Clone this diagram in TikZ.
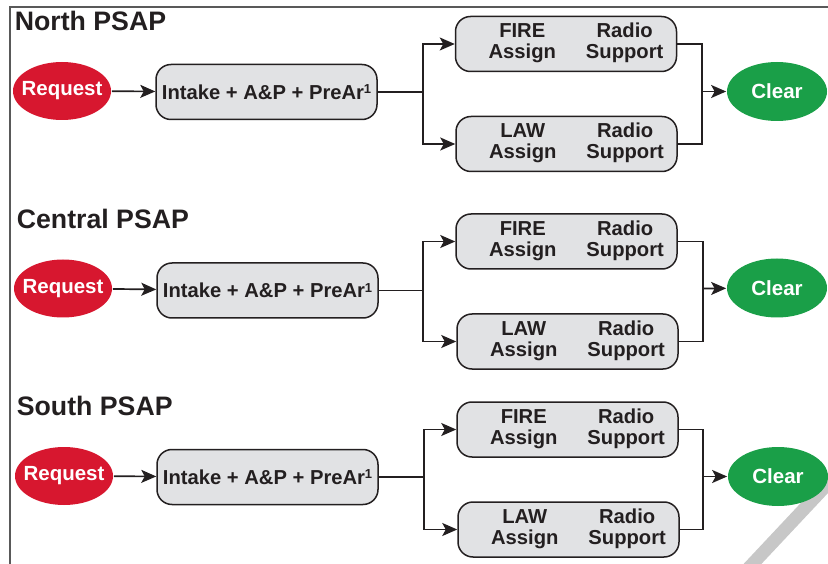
\documentclass[tikz,border=0pt]{standalone}
\usepackage{fontspec}
\setmainfont{Liberation Sans}
\usetikzlibrary{arrows.meta, shapes.geometric}

\definecolor{reqred}{HTML}{D7172F}
\definecolor{clrgreen}{HTML}{1A9F48}
\definecolor{boxgray}{HTML}{E1E2E4}
\definecolor{ink}{HTML}{231F20}

% two columns of a dispatch box
\newcommand{\dispatch}[1]{\hspace*{20pt}\begin{tabular}{@{}c@{\hspace{30pt}}c@{}}#1 & Radio\\ Assign & Support\end{tabular}}
% text of an oval, the oval keeps its own size
\newcommand{\ovaltext}[1]{\makebox[0pt]{#1}}
% footnote mark
\newcommand{\fnmark}{\kern-0.3pt\raisebox{5.3pt}{\fontsize{13}{13}\selectfont 1}}

\begin{document}
\begin{tikzpicture}[
        x=1pt, y=-1pt, % pixel units, y downwards
        > = {Stealth[length=15pt, width=13pt, inset=3.5pt]}, % arrow head style
        line width=1.7pt, % line style
        draw=ink
      ]

      \tikzstyle{psaptitle}=[anchor=base west, inner sep=0pt, text=ink, font=\fontsize{26.7}{27}\selectfont\bfseries]
      \tikzstyle{request}=[ellipse, fill=reqred, text=white, minimum width=98pt, minimum height=58pt, inner sep=0pt, font=\fontsize{20.5}{21}\selectfont\bfseries]
      \tikzstyle{done}=[request, fill=clrgreen, minimum width=100pt, minimum height=59pt]
      \tikzstyle{task}=[rectangle, rounded corners=15pt, draw=ink, line width=1.5pt, fill=boxgray, minimum width=221pt, minimum height=55pt, inner sep=0pt, text=ink, font=\fontsize{20.2}{20.5}\selectfont\bfseries]

      \useasboundingbox (0,0) rectangle (828,564);

      % frame and grey stroke
      \draw[line width=1.2pt, black!65] (10,564) -- (10,7) -- (828,7);
      \draw[line width=13pt, black!22] (744,573) -- (836,475);

      % North
      \node[psaptitle] (tn) at (14,30.5) {North PSAP};
      \node[request] (rq1) at (62,91) {\ovaltext{Request}};
      \node[task] (in1) at (266.5,92) {Intake + A\&P + PreAr\fnmark};
      \node[task] (fire1) at (566,44) {\dispatch{FIRE}};
      \node[task] (law1) at (566.5,144) {\dispatch{LAW}};
      \node[done] (clr1) at (777,91.5) {\ovaltext{Clear}};
      \coordinate (br1) at (423,92);
      \coordinate (mg1) at (702,91.5);

      \draw[->] (rq1) -- (in1);
      \draw (in1) -- (br1);
      \draw[->] (br1) |- (fire1);
      \draw[->] (br1) |- (law1);
      \draw (fire1) -| (mg1);
      \draw (law1) -| (mg1);
      \draw[->] (mg1) -- (clr1);

      % Central
      \node[psaptitle] (tc) at (16,229) {Central PSAP};
      \node[request] (rq2) at (63,288.5) {\ovaltext{Request}};
      \node[task] (in2) at (267.5,290.5) {Intake + A\&P + PreAr\fnmark};
      \node[task] (fire2) at (566.5,241.5) {\dispatch{FIRE}};
      \node[task] (law2) at (567.5,341.5) {\dispatch{LAW}};
      \node[done] (clr2) at (777,288) {\ovaltext{Clear}};
      \coordinate (br2) at (423,290.5);
      \coordinate (mg2) at (703,288.5);

      \draw[->] (rq2) -- (in2);
      \draw (in2) -- (br2);
      \draw[->] (br2) |- (fire2);
      \draw[->] (br2) |- (law2);
      \draw (fire2) -| (mg2);
      \draw (law2) -| (mg2);
      \draw[->] (mg2) -- (clr2);

      % South
      \node[psaptitle] (ts) at (16,415) {South PSAP};
      \node[request] (rq3) at (64,476) {\ovaltext{Request}};
      \node[task] (in3) at (267.5,477) {Intake + A\&P + PreAr\fnmark};
      \node[task] (fire3) at (567.5,429.5) {\dispatch{FIRE}};
      \node[task] (law3) at (568.5,529.5) {\dispatch{LAW}};
      \node[done] (clr3) at (778,476.5) {\ovaltext{Clear}};
      \coordinate (br3) at (424,477);
      \coordinate (mg3) at (703,476.5);

      \draw[->] (rq3) -- (in3);
      \draw (in3) -- (br3);
      \draw[->] (br3) |- (fire3);
      \draw[->] (br3) |- (law3);
      \draw (fire3) -| (mg3);
      \draw (law3) -| (mg3);
      \draw[->] (mg3) -- (clr3);

    \end{tikzpicture}
\end{document}
